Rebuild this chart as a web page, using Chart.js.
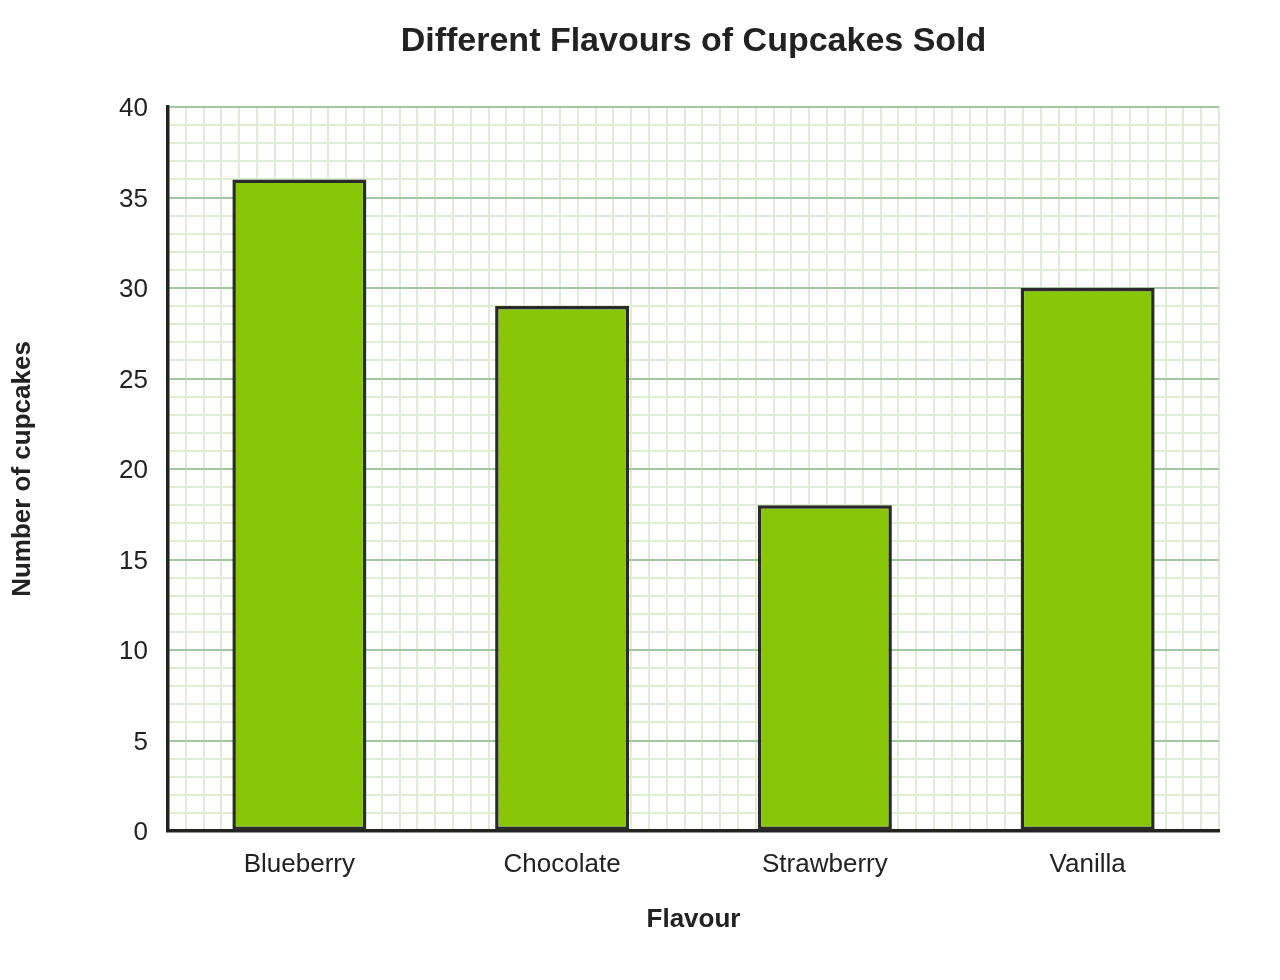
<!DOCTYPE html>
<html>
<head>
<meta charset="utf-8">
<title>Different Flavours of Cupcakes Sold</title>
<script src="https://cdn.jsdelivr.net/npm/chart.js@4/dist/chart.umd.min.js"></script>
<style>
  html, body { margin: 0; padding: 0; background: #fff; }
  #wrap { width: 1280px; height: 980px; }
</style>
</head>
<body>
<div id="wrap"><canvas id="barChart" width="1280" height="980"></canvas></div>
<script>
// data
const flavours = ['Blueberry', 'Chocolate', 'Strawberry', 'Vanilla'];
const cupcakesSold = [36, 29, 18, 30];
const yMin = 0;
const yMax = 40;
const yLabelStep = 5;   // labelled / darker lines
const gridColumns = 58; // minor vertical squares across the plot

const FONT = '"Liberation Sans", Arial, sans-serif';
const TEXT = '#222222';
const MAJOR = '#a3c6a3';
const MINOR = '#ddecd3';
const AXIS = '#222222';

const data = {
  labels: flavours,
  datasets: [{
    label: 'Number of cupcakes',
    data: cupcakesSold,
    backgroundColor: '#88c708',
    borderColor: '#2a2a2a',
    borderWidth: 3.5,
    borderSkipped: false,
    barPercentage: 0.51,
    categoryPercentage: 1.0
  }]
};

const config = {
  type: 'bar',
  data: data,
  options: {
    responsive: false,
    devicePixelRatio: 1,
    animation: false,
    layout: { padding: { left: 0, right: 61, top: 0, bottom: 0 } },
    plugins: {
      legend: { display: false },
      tooltip: { enabled: false },
      title: { display: false }
    },
    scales: {
      x: {
        type: 'category',
        position: 'bottom',
        grid: { display: false, drawTicks: false },
        border: { display: true, color: AXIS, width: 3.5 },
        ticks: { color: TEXT, font: { family: FONT, size: 26 }, padding: 18 },
        title: {
          display: true,
          text: 'Flavour',
          color: TEXT,
          font: { family: FONT, size: 26, weight: 'bold' },
          padding: { top: 0, bottom: 45 }
        },
        afterFit(scale) { scale.height = 149; }
      },
      // hidden top axis: minor vertical grid + chart heading
      x2: {
        type: 'linear',
        position: 'top',
        min: 0,
        max: gridColumns,
        ticks: { display: false, stepSize: 1, autoSkip: false },
        grid: { color: MINOR, lineWidth: 2, drawTicks: false, z: -2 },
        border: { display: false },
        title: {
          display: true,
          text: 'Different Flavours of Cupcakes Sold',
          color: TEXT,
          font: { family: FONT, size: 34, weight: 'bold' },
          padding: { top: 21, bottom: 0 }
        },
        afterFit(scale) { scale.height = 107; }
      },
      y: {
        type: 'linear',
        position: 'left',
        min: yMin,
        max: yMax,
        ticks: {
          stepSize: 1,
          autoSkip: false,
          color: TEXT,
          font: { family: FONT, size: 26 },
          padding: 20,
          labelOffset: 2,
          callback: (v) => (v % yLabelStep === 0 ? v : '')
        },
        grid: {
          drawTicks: false,
          lineWidth: 2,
          z: -1,
          color: (ctx) => (ctx.tick && ctx.tick.value % yLabelStep === 0 ? MAJOR : MINOR)
        },
        border: { display: true, color: AXIS, width: 3.5 },
        title: {
          display: true,
          text: 'Number of cupcakes',
          color: TEXT,
          font: { family: FONT, size: 26, weight: 'bold' },
          padding: { top: 7, bottom: 0 }
        },
        afterFit(scale) { scale.width = 168; }
      }
    }
  }
};

var myChart = new Chart(document.getElementById('barChart'), config);
</script>
</body>
</html>
